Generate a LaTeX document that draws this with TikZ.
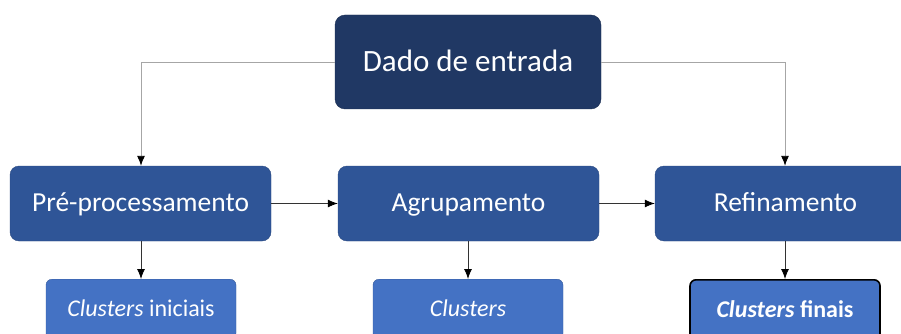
\documentclass[tikz,border=0pt]{standalone}
\usepackage{fontspec}
\setmainfont{Carlito}
\usepackage{tikz}
\usetikzlibrary{arrows.meta}
\definecolor{navy}{HTML}{203864}
\definecolor{midblue}{HTML}{2F5597}
\definecolor{lightblue}{HTML}{4472C4}
\tikzset{
  topbox/.style={draw=navy!80!black,fill=navy,rounded corners=10pt,text=white,
    minimum width=266pt,minimum height=94pt,inner sep=0pt,text height=20pt,text depth=1pt,
    font=\fontsize{31}{36}\selectfont},
  stagebox/.style={draw=midblue!85!black,fill=midblue,rounded corners=9pt,text=white,
    minimum width=261pt,minimum height=75pt,inner sep=0pt,text height=17.7pt,text depth=1pt,
    font=\fontsize{27.5}{32}\selectfont},
  outbox/.style={draw=lightblue!80!black,fill=lightblue,rounded corners=6pt,text=white,
    minimum width=190pt,minimum height=60pt,inner sep=0pt,text height=15.5pt,text depth=1pt,
    font=\fontsize{24}{28}\selectfont},
  conn/.style={draw=black!35,line width=0.9pt,-{Latex[black,length=10pt,width=8pt]}},
  link/.style={draw=black!80,line width=0.8pt,-{Latex[black,length=10pt,width=8pt]}}
}
\begin{document}
\begin{tikzpicture}[x=1pt,y=-1pt]
\useasboundingbox (0,0) rectangle (901,334);
\clip (0,0) rectangle (901,334);
% caixas
\node[topbox] (dado) at (468,62) {Dado de entrada};
\node[stagebox] (pre) at (140.5,203.5) {Pré-processamento};
\node[stagebox] (agr) at (468.5,203.5) {Agrupamento};
\node[stagebox] (ref) at (785.5,203.5) {Refinamento};
\node[outbox,anchor=north] (cini) at (141,279) {\textit{Clusters} iniciais};
\node[outbox,anchor=north] (clu) at (468,279) {\textit{Clusters}};
\node[outbox,anchor=north,draw=black,line width=1.6pt,font=\fontsize{24}{28}\selectfont\bfseries] (cfin) at (785,279) {\textit{Clusters} finais};
% ligacoes
\draw[conn] (dado.west) -| (pre.north -| cini.north);
\draw[conn] (dado.east) -| (ref.north -| cfin.north);
\draw[link] (pre) -- (agr);
\draw[link] (agr) -- (ref);
\draw[link] (pre.south -| cini.north) -- (cini);
\draw[link] (agr.south -| clu.north) -- (clu);
\draw[link] (ref.south -| cfin.north) -- (cfin);
\end{tikzpicture}
\end{document}
